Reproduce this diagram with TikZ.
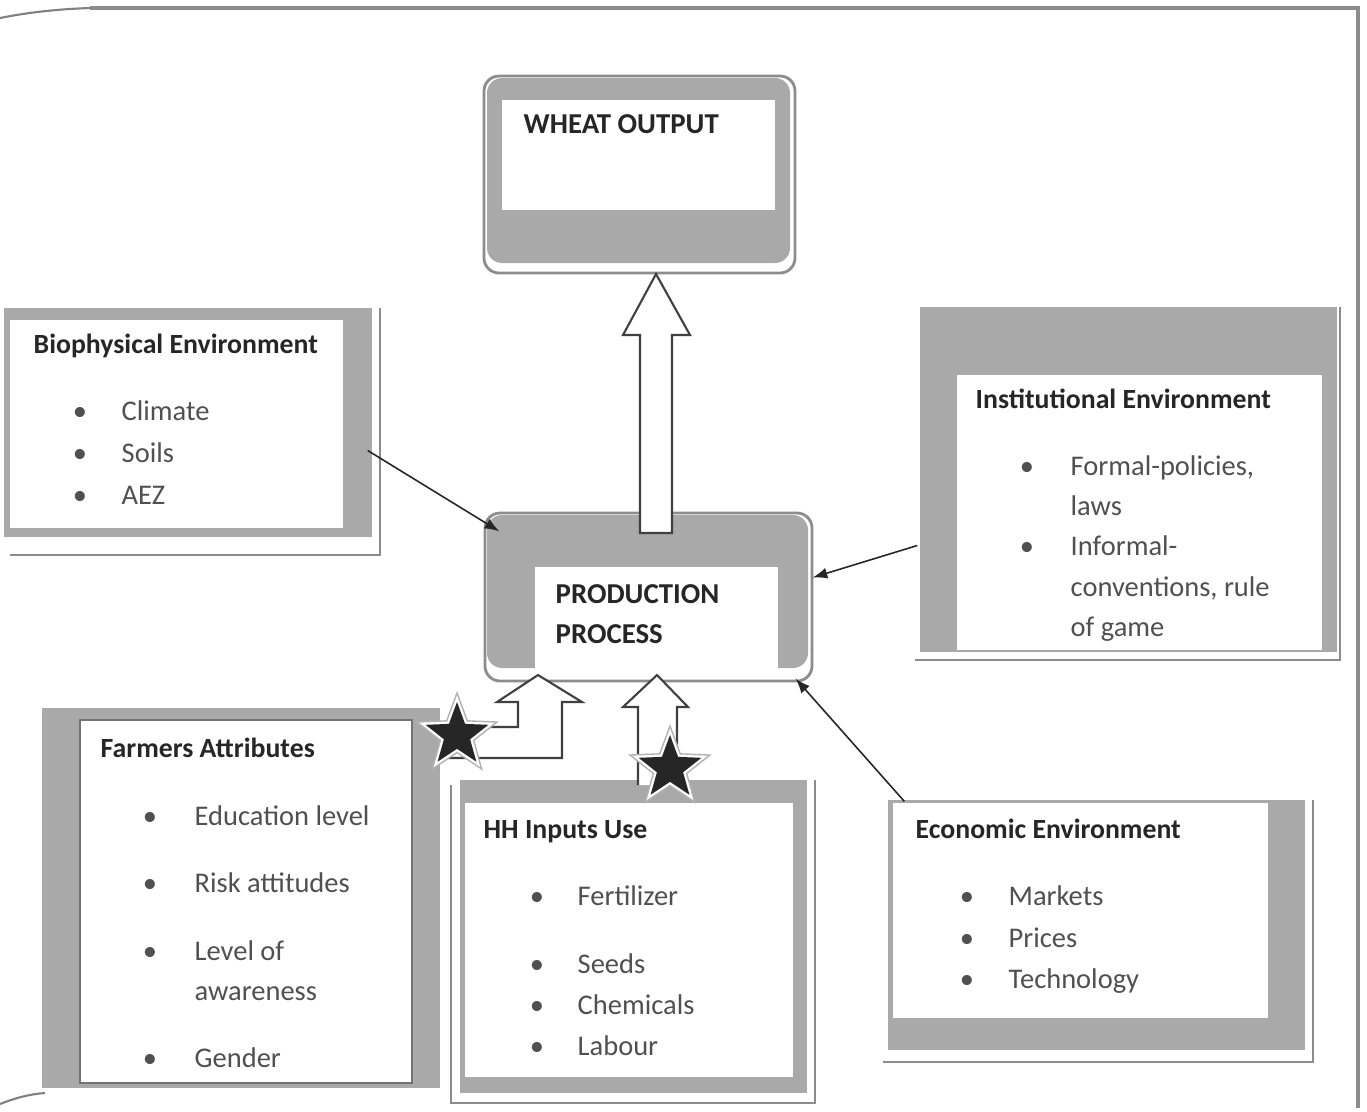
\documentclass[tikz,border=0pt]{standalone}
\usepackage{fontspec}
\setmainfont{Carlito}
\usepackage{xcolor}
\usepackage{tikz}
\tikzset{>=latex}
\usetikzlibrary{calc}
\usetikzlibrary{fit,shapes.geometric}
\definecolor{mygray}{HTML}{A9A9A9}
\definecolor{myline}{HTML}{8C8C8C}
\definecolor{mytext}{HTML}{505050}
\tikzset{
	graybox/.style={fill=mygray,inner sep=0pt},
	whitebox/.style={fill=white,inner sep=0pt},
	edge line/.style={myline,line width=0.8pt},
	title/.style={anchor=base west,inner sep=0pt,text=black!85,font=\fontsize{7.9}{9}\selectfont\bfseries},
	bigtitle/.style={title,font=\fontsize{8.2}{9}\selectfont\bfseries},
	item/.style={anchor=base west,inner sep=0pt,text=mytext,font=\fontsize{8.1}{9}\selectfont},
	dot/.style={item,anchor=base},
	hollow/.style={draw=black!75,fill=white,line width=0.6pt},
	conn/.style={black!85,line width=0.45pt},
	halo/.style={star,star points=5,star point ratio=2.4,inner sep=0pt,fill=white,draw=black!30,line width=0.4pt,minimum size=0.84cm},
	mystar/.style={star,star points=5,star point ratio=2.4,inner sep=0pt,fill=black!85,minimum size=0.66cm}
}

\begin{document}
\begin{tikzpicture}[x=0.01cm,y=-0.01cm]
		\useasboundingbox (0,0) rectangle (1367,1111);
		% page frame
		\draw[myline,line width=0.9pt] (90,8) -- (1358,8) -- (1358,1108);
		\draw[black!50,line width=0.6pt] (0,18) .. controls (30,12) and (60,9) .. (90,8);
		\draw[black!50,line width=0.6pt] (0,1104) .. controls (15,1098) and (30,1094) .. (45,1093);

		% wheat output
		\node[graybox,rounded corners=1.5mm,fit={(487,78) (790,263)}] (wheat) {};
		\node[whitebox,fit={(502,100) (775,210)}] (wheatin) {};
		\draw[edge line,rounded corners=1.5mm] (484,76) rectangle (795,273);
		\node[title,font=\fontsize{8.2}{9}\selectfont\bfseries] (wheatt) at (523,133) {WHEAT OUTPUT};

		% production process
		\node[graybox,rounded corners=1.5mm,fit={(487,515) (808,668)}] (prod) {};
		\node[whitebox,fit={(535,567) (778,679)}] (prodin) {};
		\draw[edge line,rounded corners=1.5mm] (485,513) rectangle (812,681);
		\node[bigtitle] (prodt1) at (555,603) {PRODUCTION};
		\node[bigtitle] (prodt2) at (555,643) {PROCESS};
		\draw[hollow] (640,533) -- (640,335) -- (623,335) -- (656,274) -- (690,335) -- (672,335) -- (672,533) -- cycle;

		% biophysical
		\draw[edge line] (10,555) -- (380,555) -- (380,308);
		\node[graybox,fit={(4,308) (372,537)}] (bio) {};
		\node[whitebox,fit={(10,320) (343,528)}] (bioin) {};
		\node[title] (biot) at (33,353) {Biophysical Environment};
		\foreach \t/\y [count=\i] in {Climate/420,Soils/462,AEZ/504}{
			\node[dot] (biob\i) at (80,\y) {•};
			\node[item] (bioi\i) at (121,\y) {\t};
		}

		% institutional
		\draw[edge line] (915,660) -- (1340,660) -- (1340,307);
		\node[graybox,fit={(920,307) (1337,652)}] (inst) {};
		\node[whitebox,fit={(957,375) (1322,650)}] (instin) {};
		\node[title] (instt) at (975,408) {Institutional Environment};
		\foreach \t/\y [count=\i] in {{Formal-policies,}/475,laws/515,Informal-/555,{conventions, rule}/596,of game/636}{
			\node[item] (insti\i) at (1070,\y) {\t};
		}
		\node[dot] (instb1) at (1027,475) {•};
		\node[dot] (instb2) at (1027,555) {•};

		% economic
		\draw[edge line] (883,1062) -- (1313,1062) -- (1313,800);
		\node[graybox,fit={(888,800) (1305,1050)}] (econ) {};
		\node[whitebox,fit={(893,803) (1268,1018)}] (econin) {};
		\node[title] (econt) at (915,838) {Economic Environment};
		\foreach \t/\y [count=\i] in {Markets/905,Prices/947,Technology/988}{
			\node[dot] (econb\i) at (967,\y) {•};
			\node[item] (econi\i) at (1008,\y) {\t};
		}

		% farmers
		\node[graybox,fit={(42,708) (440,1088)}] (farm) {};
		\node[whitebox,draw=black!55,line width=0.5pt,fit={(80,720) (412,1083)}] (farmin) {};
		\node[title] (farmt) at (100,757) {Farmers Attributes};
		\foreach \t/\y [count=\i] in {Education level/825,Risk attitudes/892,Level of/960,awareness/1000,Gender/1067}{
			\node[item] (farmi\i) at (194,\y) {\t};
		}
		\foreach \y [count=\i] in {825,892,960,1067}
			\node[dot] (farmb\i) at (150,\y) {•};

		% hh inputs
		\draw[edge line] (451,785) -- (451,1103) -- (815,1103) -- (815,780);
		\node[graybox,fit={(460,780) (807,1093)}] (hh) {};
		\node[whitebox,fit={(465,803) (793,1077)}] (hhin) {};
		\node[title] (hht) at (483,838) {HH Inputs Use};
		\foreach \t/\y [count=\i] in {Fertilizer/905,Seeds/973,Chemicals/1014,Labour/1055}{
			\node[dot] (hhb\i) at (537,\y) {•};
			\node[item] (hhi\i) at (577,\y) {\t};
		}

		% arrows into the process
		\draw[->,conn] ($(bio.east)+(-5,28)$) -- ($(prod.north west)+(13,17)$);
		\draw[->,conn] ($(inst.west)+(-2,66)$) -- ($(prod.east)+(4,-14)$);
		\draw[->,conn] ($(econ.north west)+(17,2)$) -- ($(prod.south east)+(-13,10)$);
		\draw[hollow] (440,727) -- (518,727) -- (518,702) -- (497,702) -- (538,675) -- (582,702) -- (562,702) -- (562,758) -- (440,758);
		\draw[hollow] (638,785) -- (638,707) -- (623,707) -- (657,675) -- (688,707) -- (677,707) -- (677,785);

		\node[halo] (star1h) at (457,735) {};
		\node[mystar] (star1) at (457,735) {};
		\node[halo] (star2h) at (670,768) {};
		\node[mystar] (star2) at (670,768) {};
	\end{tikzpicture}
\end{document}
